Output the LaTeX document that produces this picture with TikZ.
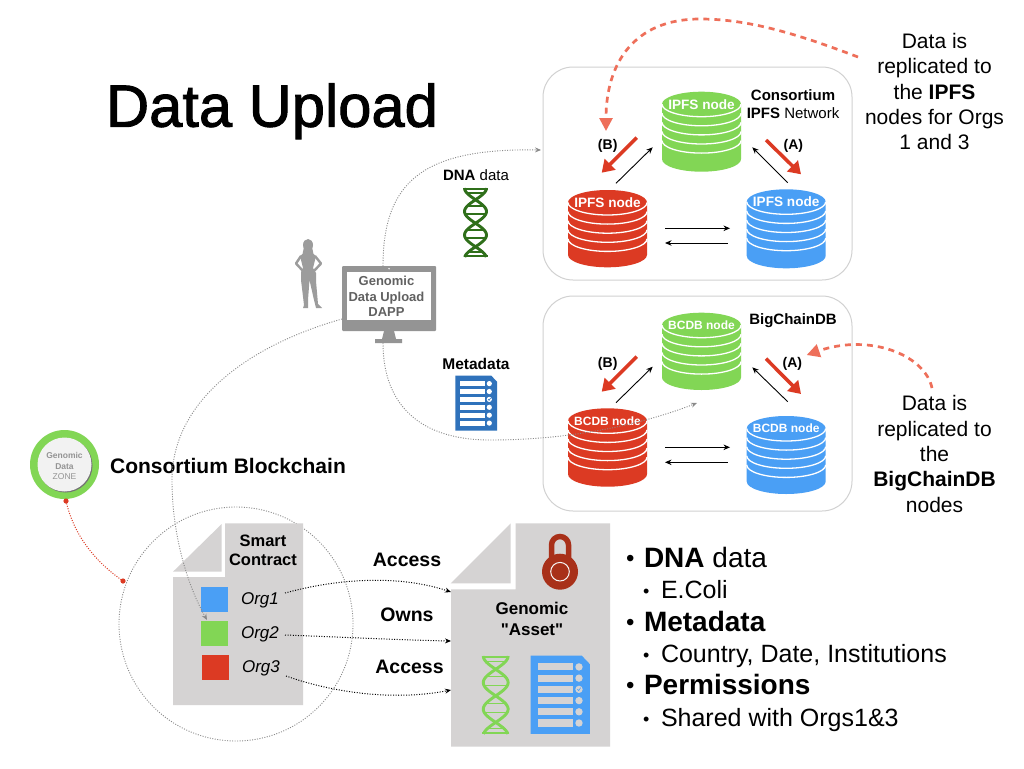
\documentclass[tikz,border=0pt]{standalone}
\usepackage{fontspec}
\setmainfont{Liberation Sans}
\newfontfamily\titlefont[FakeBold=1.6]{Liberation Sans}
\newfontfamily\quotefont{Liberation Sans}
\usetikzlibrary{arrows.meta}
\definecolor{cred}{HTML}{DC3A23}
\definecolor{cgreen}{HTML}{82D655}
\definecolor{cblue}{HTML}{4A9FF5}
\definecolor{dgreen}{HTML}{2F6F1A}
\definecolor{dblue}{HTML}{2F72BB}
\definecolor{docgray}{HTML}{D5D3D3}
\definecolor{lockred}{HTML}{A83019}
\definecolor{dashred}{HTML}{EE6F5A}
\definecolor{mongray}{HTML}{949494}
\definecolor{persongray}{HTML}{9C9C9C}
\definecolor{dotgray}{HTML}{8A8A8A}
\newcommand{\fs}[1]{\fontsize{#1}{#1}\selectfont}
\newcommand{\fsl}[2]{\fontsize{#1}{#2}\selectfont}
\tikzset{
  panelbox/.style={draw=black!18,line width=1pt,rounded corners=30pt,fill=white},
  txt/.style={inner sep=0pt,outer sep=0pt,align=center,text=black},
  thinarrow/.style={black,line width=0.9pt,-{Stealth[length=6.5pt,width=5.5pt]}},
  redarrow/.style={cred,line width=3.5pt,-{Triangle[length=12pt,width=15pt]}},
  bigdash/.style={dashred,line width=2.7pt,dash pattern=on 6pt off 5pt,-{Triangle[length=13pt,width=13pt,sep=0pt]}},
  graydot/.style={dotgray,line width=0.9pt,dash pattern=on 1pt off 1.5pt,-{Stealth[length=6pt,width=5pt]}},
  blackdot/.style={black,line width=1pt,dash pattern=on 1pt off 1.6pt,-{Stealth[length=6pt,width=5pt]}},
}
% name, cx, top, bottom, colour, label, fontsize
\newcommand{\dbcyl}[7]{%
  \fill[#5] (#2-39.5,#3+12.5) -- (#2-39.5,#4-12.5)
    arc[start angle=180,end angle=360,x radius=39.5pt,y radius=12.5pt]
    -- (#2+39.5,#3+12.5)
    arc[start angle=0,end angle=180,x radius=39.5pt,y radius=12.5pt] -- cycle;
  \foreach \k in {0,1,2,3,4}{
    \draw[white,line width=1.3pt] (#2-39.5,{#3+12.5+\k*9.1})
      arc[start angle=180,end angle=360,x radius=39.5pt,y radius=12.5pt];
  }
  \node[txt,text=white,font=\fs{#7}\bfseries] (#1) at (#2,#3+12.5) {#6};
}
% DNA helix: colour, x left, y top, scale
\newcommand{\dnaicon}[4]{%
  \begin{scope}[shift={(#2,#3)},scale=#4]
    \draw[#1,line width=2.9pt] plot[smooth,domain=0:69,samples=50] ({13+11*cos(\x*7.66)},\x);
    \draw[#1,line width=2.9pt] plot[smooth,domain=0:69,samples=50] ({13-11*cos(\x*7.66)},\x);
    \foreach \yy/\hw in {1/12,5/8.7,18/8.2,26/10.4,42/8.7,50/10,64/7,68/12}{
      \draw[#1,line width=1.6pt] (13-\hw,\yy) -- (13+\hw,\yy);
    }
  \end{scope}}
% doc icon 41.7x55: x,y,scale,bg,fg
\newcommand{\docicon}[5]{%
  \begin{scope}[shift={(#1,#2)},scale=#3]
    \fill[#4] (0,0) -- (36,0) -- (41.7,6) -- (41.7,55) -- (0,55) -- cycle;
    \foreach \i in {0,1,2,3,4,5}{
      \fill[#5] (5,{5.4+\i*7.9}) rectangle (29.5,{10.4+\i*7.9});
      \fill[#5] (34,{7.9+\i*7.9}) circle[radius=2.6pt];
    }
    \draw[#4,line width=0.6pt] (32.9,23.6) -- (33.8,24.6) -- (35.2,22.5);
  \end{scope}}
\begin{document}
\begin{tikzpicture}[x=1pt,y=-1pt]
\useasboundingbox (0,0) rectangle (1024,768);
\fill[white] (0,0) rectangle (1024,768);

% Panels
\node[panelbox,minimum width=309pt,minimum height=213pt,inner sep=0pt] (ipfspanel) at (697.5,173.5) {};
\node[panelbox,minimum width=309pt,minimum height=215pt,inner sep=0pt] (bcdbpanel) at (697.5,403.5) {};

% Title & free text
\node[txt,anchor=base,font=\titlefont\fs{59.7}] (title) at (272,126.7) {Data Upload};
\node[txt,font=\fs{21}\bfseries] (cbc) at (228,466) {Consortium Blockchain};
\node[txt,font=\fsl{21}{25.4}] (ipfsnote) at (934.5,91.5) {Data is\\replicated to\\the \textbf{IPFS}\\nodes for Orgs\\1 and 3};
\node[txt,font=\fsl{21}{25.4}] (bcdbnote) at (934.5,454) {Data is\\replicated to\\the\\\textbf{BigChainDB}\\nodes};

% IPFS cylinders
\dbcyl{ipfsg}{701.5}{91.7}{171.7}{cgreen}{IPFS node}{13.6}
\dbcyl{ipfsr}{607.5}{190}{267.3}{cred}{IPFS node}{13.6}
\dbcyl{ipfsb}{786.2}{189.3}{268.3}{cblue}{IPFS node}{13.6}
\node[txt,font=\fsl{15}{18}] (ipfstitle) at (793,104) {\textbf{Consortium}\\\textbf{IPFS} Network};

% BCDB cylinders
\dbcyl{bcdbg}{701.5}{312.7}{390}{cgreen}{BCDB node}{12}
\dbcyl{bcdbr}{607.5}{408.3}{486.7}{cred}{BCDB node}{12}
\dbcyl{bcdbb}{786.2}{416}{494}{cblue}{BCDB node}{12}
\node[txt,font=\fs{15}\bfseries] (bcdbtitle) at (793,320.7) {BigChainDB};

% Panel connector ends
\coordinate (a1) at (616,183.3); \coordinate (a2) at (652.7,147.3);
\coordinate (a3) at (787.7,182.7); \coordinate (a4) at (752.3,147.3);
\coordinate (a5) at (665,228.3); \coordinate (a6) at (730,228.3);
\coordinate (a7) at (727.7,243); \coordinate (a8) at (665,243);
\coordinate (a9) at (636.7,137.7); \coordinate (a10) at (601.7,172.7);
\coordinate (a11) at (766,140); \coordinate (a12) at (801,174.3);
\draw[thinarrow] (a1) -- (a2);
\draw[thinarrow] (a3) -- (a4);
\draw[thinarrow] (a5) -- (a6);
\draw[thinarrow] (a7) -- (a8);
\draw[redarrow] (a9) -- (a10);
\draw[redarrow] (a11) -- (a12);
\node[txt,font=\fs{14}\bfseries] (ipfsB) at (607.7,145.7) {(B)};
\node[txt,font=\fs{14}\bfseries] (ipfsA) at (793.3,145.7) {(A)};

\coordinate (b1) at (616,402.7); \coordinate (b2) at (652.7,366.7);
\coordinate (b3) at (787.7,401.7); \coordinate (b4) at (752.3,367.3);
\coordinate (b5) at (665,447.3); \coordinate (b6) at (730,447.3);
\coordinate (b7) at (727.7,462.3); \coordinate (b8) at (665,462.3);
\coordinate (b9) at (636.7,356.7); \coordinate (b10) at (601.7,391.7);
\coordinate (b11) at (766,358.7); \coordinate (b12) at (801,394);
\draw[thinarrow] (b1) -- (b2);
\draw[thinarrow] (b3) -- (b4);
\draw[thinarrow] (b5) -- (b6);
\draw[thinarrow] (b7) -- (b8);
\draw[redarrow] (b9) -- (b10);
\draw[redarrow] (b11) -- (b12);
\node[txt,font=\fs{14}\bfseries] (bcdbB) at (607.7,364.3) {(B)};
\node[txt,font=\fs{14}\bfseries] (bcdbA) at (792.3,364.3) {(A)};

% Dashed red arrows
\coordinate (n1) at (858,57); \coordinate (nm) at (700,19); \coordinate (n2) at (606,131);
\draw[bigdash] (n1) .. controls (800,35) and (750,19) .. (nm) .. controls (635,19) and (606,62) .. (n2);
\coordinate (n3) at (932,388); \coordinate (n4) at (806.7,355);
\draw[bigdash] (n3) .. controls (925,355) and (870,333) .. (n4);

% Person
\fill[persongray] (308,245) ellipse[x radius=5pt,y radius=6pt];
\fill[persongray] (304,247) -- (312,247) -- (313.5,254) -- (316,256) -- (314,264) -- (313,268) -- (316,273) -- (316,281) -- (318,304) -- (322,308) -- (316,308) -- (314,300) -- (309.5,280) -- (308,300) -- (308,308) -- (303,308) -- (304,305) -- (301,280) -- (301,272) -- (303,268) -- (302,264) -- (300,256) -- (302.5,254) -- cycle;
\draw[persongray,line width=2.4pt,line join=round] (301,256) -- (296,263.5) -- (303,271);
\draw[persongray,line width=2.4pt,line join=round] (315,256) -- (321,263.5) -- (314,271);

% Monitor
\fill[mongray,rounded corners=1pt] (342,266) rectangle (436,331);
\fill[white] (347,272) rectangle (431,320);
\fill[white] (389,268.7) circle[radius=0.8pt];
\fill[mongray] (384,331) -- (394,331) -- (396,339) -- (402,339) -- (402,343) -- (375,343) -- (375,339) -- (382,339) -- cycle;
\node[txt,text=black!62,font=\fsl{13}{15.6}\bfseries] (dapp) at (386.5,296.5) {Genomic\\Data Upload\\DAPP};

% DNA data, Metadata
\node[txt,font=\fs{15}] (dnalabel) at (476,175) {\textbf{DNA} data};
\dnaicon{dgreen}{462.5}{188}{1}
\node[txt,font=\fs{15.5}\bfseries] (metalabel) at (476,364) {Metadata};
\docicon{455.3}{375.7}{1}{dblue}{white}

% Dotted gray connectors
\coordinate (m1) at (383,266); \coordinate (m2) at (541,150);
\draw[graydot] (m1) .. controls (383,180) and (425,148) .. (m2);
\coordinate (m3) at (383,343); \coordinate (m4) at (490,440); \coordinate (m5) at (697,403);
\draw[graydot] (m3) .. controls (383,405) and (420,440) .. (m4) .. controls (570,440) and (640,425) .. (m5);

% Blockchain zone
\fill[cgreen] (64.5,464.5) circle[radius=34.5pt];
\fill[black!55] (65.5,465.5) circle[radius=27pt];
\fill[black!5] (64.5,464.5) circle[radius=27pt];
\node[txt,text=black!42,font=\fsl{8.5}{10.5}] (zone) at (64.5,466) {\textbf{Genomic}\\\textbf{Data}\\ZONE};

% Smart contract
\node[draw=dotgray,line width=0.9pt,dash pattern=on 1pt off 1.5pt,circle,minimum size=234pt,inner sep=0pt] (bigcircle) at (236,624) {};
\fill[docgray] (173,571.7) -- (221.7,524) -- (221.7,571.7) -- cycle;
\fill[docgray] (225,523.3) -- (303,523.3) -- (303,705) -- (173,705) -- (173,577) -- (225,577) -- cycle;
\node[txt,font=\fsl{16.5}{19}\bfseries] (sc) at (263,550.5) {Smart\\Contract};
\node[fill=cblue,minimum width=27.5pt,minimum height=25.5pt,inner sep=0pt] (sqb) at (214.5,599.5) {};
\node[fill=cgreen,minimum width=27.5pt,minimum height=25.5pt,inner sep=0pt] (sqg) at (214.5,633.5) {};
\node[fill=cred,minimum width=27.5pt,minimum height=25.5pt,inner sep=0pt] (sqr) at (215.5,667.5) {};
\node[txt,font=\fs{17}\itshape] (org1) at (260,600.5) {Org1};
\node[txt,font=\fs{17}\itshape] (org2) at (260,634.5) {Org2};
\node[txt,font=\fs{17}\itshape] (org3) at (261,668.5) {Org3};

% Red dotted zone link
\coordinate (z1) at (66,501); \coordinate (z2) at (123,581);
\draw[cred,line width=1pt,dash pattern=on 1pt off 1.5pt] (z1) .. controls (75,540) and (100,565) .. (z2);
\fill[cred] (z1) circle[radius=2.6pt];
\fill[cred] (z2) circle[radius=2.6pt];

% DAPP to contract
\coordinate (m6) at (342,319); \coordinate (m7) at (172,480); \coordinate (m8) at (207,620);
\draw[graydot] (m6) .. controls (250,345) and (172,400) .. (m7) .. controls (172,540) and (190,590) .. (m8);

% Asset
\fill[docgray] (450.7,583.3) -- (510.7,523.3) -- (510.7,583.3) -- cycle;
\fill[docgray] (515.7,523.3) -- (610,523.3) -- (610,746.7) -- (451,746.7) -- (451,589.3) -- (515.7,589.3) -- cycle;
% Lock
\draw[lockred,line width=5.5pt] (551.5,560) -- (551.5,545) arc[start angle=180,end angle=0,x radius=8.5pt,y radius=8.5pt] -- (568.5,560);
\fill[lockred] (560,571.7) circle[radius=18pt];
\draw[white!75!docgray,line width=1pt] (560,571.7) circle[radius=9.3pt];
\node[txt,font=\fsl{17}{21}\bfseries] (asset) at (532,618.5) {Genomic\\{\quotefont\bfseries "Asset"}};
\dnaicon{cgreen}{481}{656}{1.13}
\docicon{530.7}{655.7}{1.42}{cblue}{docgray}

% Access / owns
\node[txt,font=\fs{19.5}\bfseries] (acc1) at (407,560) {Access};
\node[txt,font=\fs{19.5}\bfseries] (owns) at (407,615) {Owns};
\node[txt,font=\fs{19.5}\bfseries] (acc2) at (409.5,667) {Access};
\coordinate (o1) at (285,593); \coordinate (t1) at (451,592);
\coordinate (o2) at (285,635); \coordinate (t2) at (451,641);
\coordinate (o3) at (286,676); \coordinate (t3) at (451,690);
\draw[blackdot] (o1) .. controls (340,578) and (400,575) .. (t1);
\draw[blackdot] (o2) .. controls (340,637) and (400,640) .. (t2);
\draw[blackdot] (o3) .. controls (340,695) and (400,700) .. (t3);

% Bullets
\node[txt,anchor=base west,font=\fs{24}] (bu1) at (626,566) {•};
\node[txt,anchor=base west,font=\fs{28}] (l1) at (644,567) {\textbf{DNA} data};
\node[txt,anchor=base west,font=\fs{18}] (bu2) at (643,597) {•};
\node[txt,anchor=base west,font=\fs{25}] (l2) at (661,598) {E.Coli};
\node[txt,anchor=base west,font=\fs{24}] (bu3) at (626,630) {•};
\node[txt,anchor=base west,font=\fs{28}\bfseries] (l3) at (644,631) {Metadata};
\node[txt,anchor=base west,font=\fs{18}] (bu4) at (643,661) {•};
\node[txt,anchor=base west,font=\fs{25}] (l4) at (661,662) {Country, Date, Institutions};
\node[txt,anchor=base west,font=\fs{24}] (bu5) at (626,693) {•};
\node[txt,anchor=base west,font=\fs{28}\bfseries] (l5) at (644,694) {Permissions};
\node[txt,anchor=base west,font=\fs{18}] (bu6) at (643,725) {•};
\node[txt,anchor=base west,font=\fs{25}] (l6) at (661,726) {Shared with Orgs1\&3};
\end{tikzpicture}
\end{document}
